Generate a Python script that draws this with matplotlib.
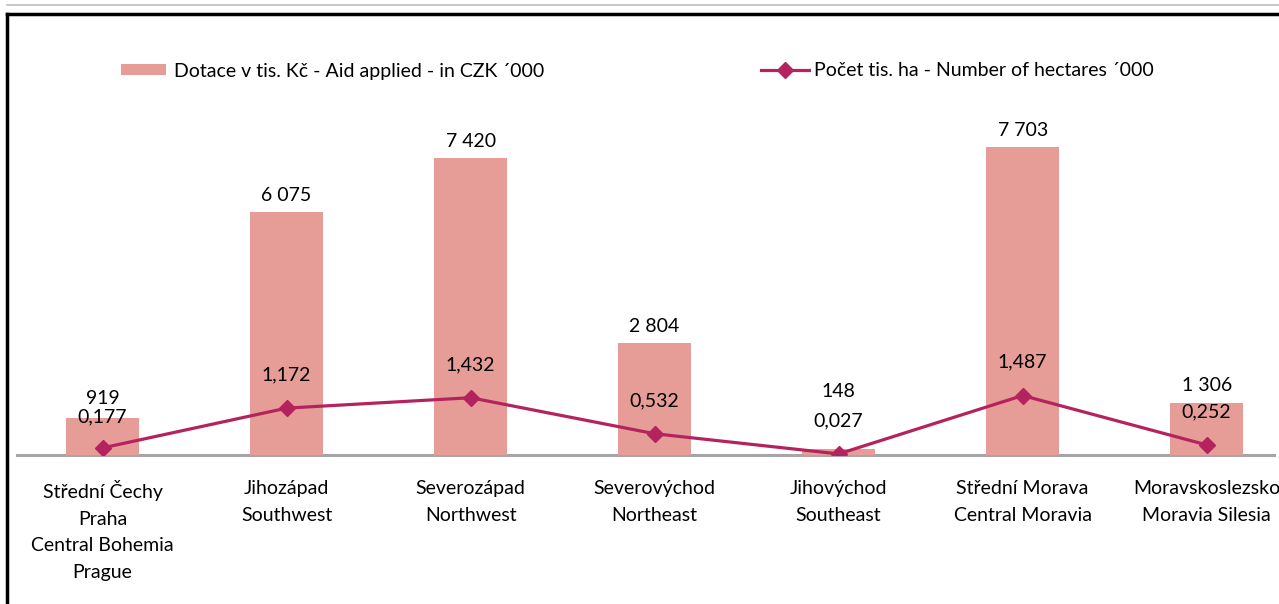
import matplotlib
matplotlib.use("Agg")
import matplotlib.pyplot as plt
from matplotlib.lines import Line2D
from matplotlib.patches import Patch

categories = ["Střední Čechy\nPraha\nCentral Bohemia\nPrague",
              "Jihozápad\nSouthwest",
              "Severozápad\nNorthwest",
              "Severovýchod\nNortheast",
              "Jihovýchod\nSoutheast",
              "Střední Morava\nCentral Moravia",
              "Moravskoslezsko\nMoravia Silesia"]
aid_czk = [919, 6075, 7420, 2804, 148, 7703, 1306]
hectares = [0.177, 1.172, 1.432, 0.532, 0.027, 1.487, 0.252]
aid_labels = ["919", "6 075", "7 420", "2 804", "148", "7 703", "1 306"]
ha_labels = ["0,177", "1,172", "1,432", "0,532", "0,027", "1,487", "0,252"]
legend_bar = "Dotace v tis. Kč - Aid applied - in CZK ´000"
legend_line = "Počet tis. ha - Number of hectares ´000"

# label layout (offsets in points)
bar_label_offset = [8, 6, 6, 6, 35, 6, 6]
line_label_offset = [22, 24, 24, 24, 24, 24, 24]

BAR_COLOR = "#E69C97"
LINE_COLOR = "#B5235F"
FONT = ["Lato", "DejaVu Sans"]
FS = 14

plt.rcParams['font.family'] = FONT

W, H = 1279, 604
fig = plt.figure(figsize=(W / 100, H / 100), dpi=100)

ax_left, ax_right = 17, 1274
ax_bottom, ax_top = 455, 55
ax = fig.add_axes([ax_left / W, 1 - ax_bottom / H,
                   (ax_right - ax_left) / W, (ax_bottom - ax_top) / H])
x = list(range(len(categories)))
ax.bar(x, aid_czk, width=0.4, color=BAR_COLOR, zorder=2)
ax.set_ylim(0, 10000)
ax.set_xlim(-0.465, 6.366)
for s in ["top", "right", "left"]:
    ax.spines[s].set_visible(False)
ax.spines["bottom"].set_color("#A6A6A6")
ax.spines["bottom"].set_linewidth(2.2)
ax.spines["bottom"].set_zorder(1)
ax.set_yticks([])
ax.set_xticks(x)
ax.set_xticklabels(categories, fontsize=FS, linespacing=1.68)
ax.tick_params(axis="x", length=0, pad=18)

for xi, v, lab, off in zip(x, aid_czk, aid_labels, bar_label_offset):
    ax.annotate(lab, (xi, v), xytext=(0, off), textcoords="offset points",
                ha="center", va="bottom", fontsize=FS)

ax2 = ax.twinx()
ax2.set_ylim(0, 10)
ax2.plot(x, hectares, color=LINE_COLOR, lw=2.3, marker="D", markersize=8.5,
         zorder=3)
ax2.axis("off")
for xi, v, lab, off in zip(x, hectares, ha_labels, line_label_offset):
    ax2.annotate(lab, (xi, v), xytext=(0, off), textcoords="offset points",
                 ha="center", va="center", fontsize=FS)

h_bar = Patch(facecolor=BAR_COLOR)
h_line = Line2D([], [], color=LINE_COLOR, lw=2.3, marker="D", markersize=8.5)
fig.legend([h_bar], [legend_bar], loc="center left",
           bbox_to_anchor=(121 / W, 1 - 71 / H), frameon=False,
           fontsize=FS, handlelength=2.3, handleheight=0.5,
           handletextpad=0.4, borderaxespad=0, borderpad=0)
fig.legend([h_line], [legend_line], loc="center left",
           bbox_to_anchor=(761 / W, 1 - 71 / H), frameon=False,
           fontsize=FS, handlelength=2.45, handletextpad=0.3,
           borderaxespad=0, borderpad=0)

fig.add_artist(Line2D([7 / W, 1], [1 - 5 / H, 1 - 5 / H], color="#BFBFBF",
                      lw=1.2, transform=fig.transFigure))
fig.add_artist(Line2D([7 / W, 1], [1 - 14 / H, 1 - 14 / H], color="black",
                      lw=2.5, transform=fig.transFigure))
fig.add_artist(Line2D([7 / W, 7 / W], [1 - 14 / H, 0], color="black",
                      lw=2.5, transform=fig.transFigure))

fig.savefig("out.png", dpi=100)
